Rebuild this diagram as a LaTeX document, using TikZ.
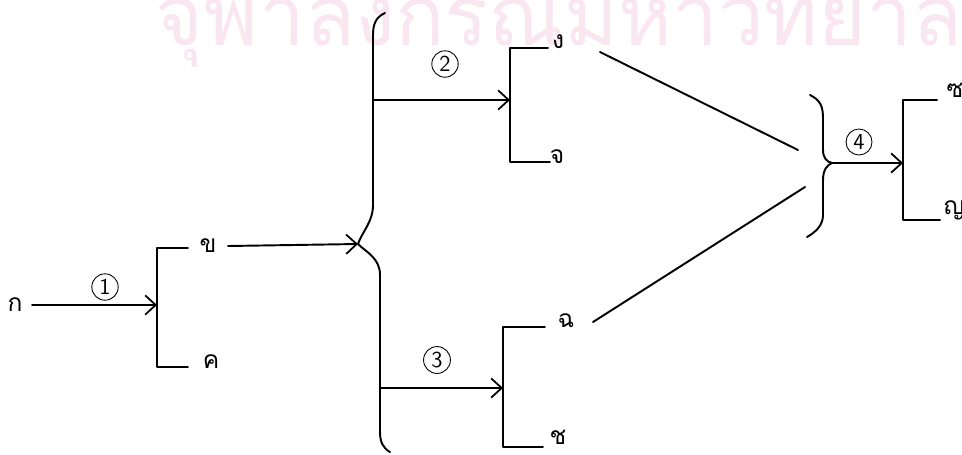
\documentclass[tikz,border=0pt]{standalone}
\usepackage{fontspec}
\newfontfamily\thaifont[Script=Thai]{Loma}
\usetikzlibrary{arrows.meta}
\definecolor{wmpink}{RGB}{250,230,240}

\begin{document}
\begin{tikzpicture}
[
	stroke/.style={line width=1.1pt,line cap=round,line join=round},
	flow/.style={stroke,-{Straight Barb[length=6pt,width=11pt,line width=1pt]}},
	letter/.style={font=\thaifont\fontsize{14}{16}\selectfont,inner sep=1pt},
	stagenum/.style={circle,draw,line width=0.5pt,inner sep=1.5pt,font=\sffamily\fontsize{13}{15}\selectfont},
	x=0.02cm,y=-0.02cm
]

	\useasboundingbox (0,0) rectangle (962,454);

	% watermark
	\begin{scope}
		\clip (0,0) rectangle (962,454);
		\node[anchor=base west,inner sep=0pt,text=wmpink,font=\thaifont\fontsize{48}{50}\selectfont] (mark) at (155,45) {\scalebox{0.97}[1]{จุฬาลงกรณ์มหาวิทยาลัย}};
	\end{scope}

	% letters
	\node[letter] (ko) at (15,305) {ก};
	\node[letter] (kho) at (208,246) {ข};
	\node[letter] (kha) at (211,362) {ค};
	\node[letter] (ngo) at (558,42) {ง};
	\node[letter] (cho) at (557,157) {จ};
	\node[letter] (chi) at (566,321) {ฉ};
	\node[letter] (cha) at (558,437) {ช};
	\node[letter] (so) at (955,90) {ซ};
	\node[letter] (yo) at (954,210) {ญ};

	% stage numbers
	\node[stagenum] (s1) at (105,287) {1};
	\node[stagenum] (s2) at (445,64) {2};
	\node[stagenum] (s3) at (437,360) {3};
	\node[stagenum] (s4) at (859,142) {4};

	% brackets
	\draw[stroke] (188,248) -- (157,248) -- (157,367) -- (188,367);
	\draw[stroke] (548,48) -- (510,48) -- (510,162) -- (550,162);
	\draw[stroke] (545,327) -- (503,327) -- (503,447) -- (543,447);
	\draw[stroke] (937,100) -- (903,100) -- (903,220) -- (940,220);

	% braces
	\draw[stroke] (385,13) .. controls (376,17) and (373,24) .. (373,35) -- (373,205)
		.. controls (373,222) and (362,232) .. (358,244)
		.. controls (366,252) and (380,258) .. (380,275) -- (380,432)
		.. controls (380,442) and (383,448) .. (390,452);
	\draw[stroke] (810,95) .. controls (820,100) and (823,106) .. (823,118) -- (823,150)
		.. controls (823,158) and (827,162) .. (832,163)
		.. controls (827,165) and (823,170) .. (823,180) -- (823,215)
		.. controls (823,225) and (816,232) .. (807,237);

	% connector ends
	\coordinate (in1) at (157,305);
	\coordinate (out1) at (32,305);
	\coordinate (out2) at (228,246);
	\coordinate (tip) at (358,244);
	\coordinate (up) at (373,100);
	\coordinate (in2) at (510,100);
	\coordinate (down) at (380,388);
	\coordinate (in3) at (503,388);
	\coordinate (from3) at (593,322);
	\coordinate (from2) at (600,52);
	\coordinate (join1) at (798,150);
	\coordinate (join2) at (805,187);
	\coordinate (point4) at (832,163);
	\coordinate (in4) at (903,163);

	% connectors
	\draw[flow] (out1) -- (in1);
	\draw[flow] (out2) -- (tip);
	\draw[flow] (up) -- (in2);
	\draw[flow] (down) -- (in3);
	\draw[flow] (point4) -- (in4);
	\draw[stroke] (from2) -- (join1);
	\draw[stroke] (from3) -- (join2);

\end{tikzpicture}
\end{document}
